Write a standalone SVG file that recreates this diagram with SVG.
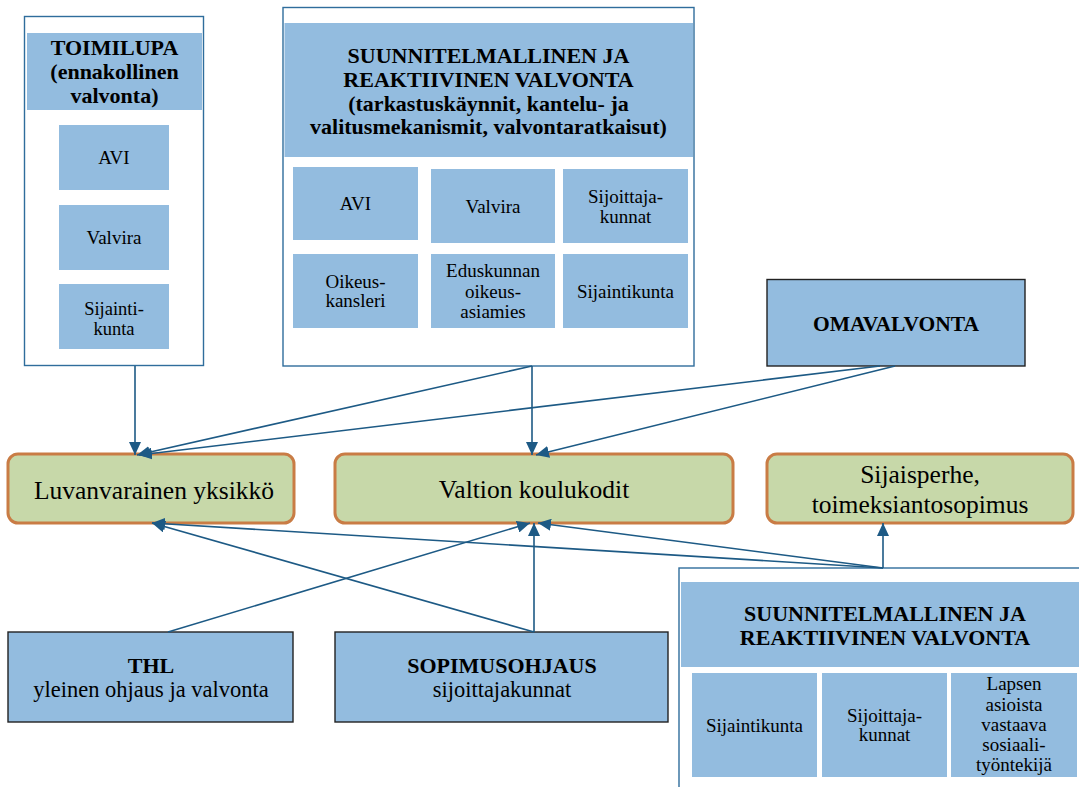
<svg xmlns="http://www.w3.org/2000/svg" width="1079" height="787" viewBox="0 0 1079 787">
<style>
.frame{fill:#ffffff;stroke:#2f6d9c;stroke-width:1.4}
.hdr{fill:#93bcdf}
.sub{fill:#93bcdf}
.box{fill:#93bcdf;stroke:#222;stroke-width:1.4}
.green{fill:#c7d8a9;stroke:#c97c45;stroke-width:3}
.tb{font-family:"Liberation Serif","Times New Roman",serif;font-weight:bold;font-size:22px;fill:#000;text-anchor:middle}
.ts{font-family:"Liberation Serif","Times New Roman",serif;font-size:19px;fill:#000;text-anchor:middle}
.tg{font-family:"Liberation Serif","Times New Roman",serif;font-size:25.5px;fill:#000;text-anchor:middle}
.tm{font-family:"Liberation Serif","Times New Roman",serif;font-size:22.5px;fill:#000;text-anchor:middle}
.conn line{stroke:#1d5a85;stroke-width:1.6;fill:none;marker-end:url(#ah)}
</style>
<defs>
<marker id="ah" markerUnits="userSpaceOnUse" markerWidth="14" markerHeight="12" refX="13" refY="6" orient="auto">
<path d="M0,0 L13,6 L0,12 Z" fill="#1d5a85"/>
</marker>
</defs>
<rect width="1079" height="787" fill="#ffffff"/>

<g id="toimilupa">
<rect class="frame" x="24.5" y="16.5" width="179" height="349"/>
<rect class="hdr" x="27" y="33" width="175" height="77"/>
<text class="tb" x="114.5" y="55">TOIMILUPA</text>
<text class="tb" x="114.5" y="79">(ennakollinen</text>
<text class="tb" x="114.5" y="103">valvonta)</text>
<rect class="sub" x="59" y="125" width="110" height="65"/>
<text class="ts" x="114" y="164">AVI</text>
<rect class="sub" x="59" y="205" width="110" height="65"/>
<text class="ts" x="114" y="244">Valvira</text>
<rect class="sub" x="59" y="284" width="110" height="65"/>
<text class="ts" x="114" y="314.5" style="font-size:18.5px">Sijainti-</text>
<text class="ts" x="114" y="335" style="font-size:18.5px">kunta</text>
</g>

<g id="suunnitelmallinen-top">
<rect class="frame" x="283" y="7.5" width="411" height="358.5"/>
<rect class="hdr" x="284.5" y="23" width="408.5" height="134"/>
<text class="tb" x="488.5" y="63">SUUNNITELMALLINEN JA</text>
<text class="tb" x="488.5" y="87">REAKTIIVINEN VALVONTA</text>
<text class="tb" x="488.5" y="110.5">(tarkastuskäynnit, kantelu- ja</text>
<text class="tb" x="488.5" y="134">valitusmekanismit, valvontaratkaisut)</text>
<rect class="sub" x="293" y="167" width="125" height="73"/>
<text class="ts" x="355.5" y="210">AVI</text>
<rect class="sub" x="431" y="169" width="124" height="74"/>
<text class="ts" x="493" y="213">Valvira</text>
<rect class="sub" x="563" y="169" width="125" height="74"/>
<text class="ts" x="625.5" y="202.5">Sijoittaja-</text>
<text class="ts" x="625.5" y="222.5">kunnat</text>
<rect class="sub" x="293" y="254" width="125" height="74"/>
<text class="ts" x="355.5" y="287.5">Oikeus-</text>
<text class="ts" x="355.5" y="306.5">kansleri</text>
<rect class="sub" x="431" y="254" width="124" height="74"/>
<text class="ts" x="493" y="276.5">Eduskunnan</text>
<text class="ts" x="493" y="297.5">oikeus-</text>
<text class="ts" x="493" y="317.5">asiamies</text>
<rect class="sub" x="563" y="254" width="125" height="74"/>
<text class="ts" x="625.5" y="298">Sijaintikunta</text>
</g>

<g id="omavalvonta">
<rect class="box" x="767" y="279.5" width="258" height="86.5"/>
<text class="tb" x="896" y="331" style="font-size:21.5px">OMAVALVONTA</text>
</g>

<g id="luvanvarainen">
<rect class="green" x="8" y="454" width="286" height="69" rx="10" ry="10"/>
<text class="tg" x="154" y="499">Luvanvarainen yksikkö</text>
</g>

<g id="valtion">
<rect class="green" x="335" y="454" width="398" height="69" rx="10" ry="10"/>
<text class="tg" x="534" y="498">Valtion koulukodit</text>
</g>

<g id="sijaisperhe">
<rect class="green" x="767" y="454" width="306" height="69" rx="10" ry="10"/>
<text class="tg" x="920" y="483">Sijaisperhe,</text>
<text class="tg" x="920" y="513">toimeksiantosopimus</text>
</g>

<g id="thl">
<rect class="box" x="8" y="632" width="285" height="90"/>
<text class="tb" x="151" y="673">THL</text>
<text class="tm" x="151" y="697">yleinen ohjaus ja valvonta</text>
</g>

<g id="sopimusohjaus">
<rect class="box" x="335" y="632" width="333" height="90"/>
<text class="tb" x="502" y="673">SOPIMUSOHJAUS</text>
<text class="tm" x="502" y="697">sijoittajakunnat</text>
</g>

<g id="suunnitelmallinen-bottom">
<rect class="frame" x="679" y="568" width="420" height="240"/>
<rect class="hdr" x="681" y="582" width="400" height="85"/>
<text class="tb" x="885" y="621">SUUNNITELMALLINEN JA</text>
<text class="tb" x="885" y="645">REAKTIIVINEN VALVONTA</text>
<rect class="sub" x="692" y="673" width="125" height="104"/>
<text class="ts" x="754.5" y="731.5">Sijaintikunta</text>
<rect class="sub" x="822" y="673" width="125" height="104"/>
<text class="ts" x="884.5" y="722">Sijoittaja-</text>
<text class="ts" x="884.5" y="741">kunnat</text>
<rect class="sub" x="951" y="673" width="126" height="104"/>
<text class="ts" x="1014" y="690">Lapsen</text>
<text class="ts" x="1014" y="710.5">asioista</text>
<text class="ts" x="1014" y="730.5">vastaava</text>
<text class="ts" x="1014" y="751">sosiaali-</text>
<text class="ts" x="1014" y="771">työntekijä</text>
</g>

<g id="connectors" class="conn">
<line x1="135" y1="366" x2="135" y2="455"/>
<line x1="532" y1="366" x2="137" y2="455"/>
<line x1="880" y1="366" x2="139" y2="455"/>
<line x1="532" y1="366" x2="532" y2="455"/>
<line x1="895" y1="366" x2="536" y2="455"/>
<line x1="168" y1="632" x2="530" y2="523"/>
<line x1="534" y1="632" x2="534" y2="523"/>
<line x1="883" y1="568" x2="538" y2="523"/>
<line x1="534" y1="632" x2="152" y2="523"/>
<line x1="883" y1="568" x2="152" y2="523"/>
<line x1="883" y1="568" x2="883" y2="523"/>
</g>
</svg>
